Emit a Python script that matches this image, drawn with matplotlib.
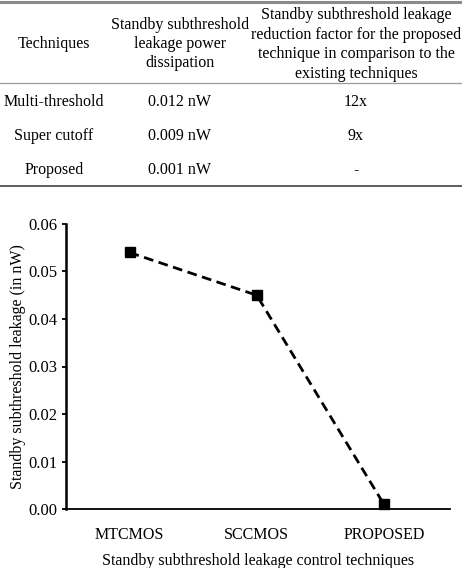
import matplotlib.pyplot as plt
from matplotlib.lines import Line2D

plt.rcParams['font.family'] = ['Liberation Serif', 'DejaVu Serif']
plt.rcParams['font.size'] = 11.5

# table data
col_headers = ['Techniques',
               'Standby subthreshold\nleakage power\ndissipation',
               'Standby subthreshold leakage\nreduction factor for the proposed\ntechnique in comparison to the\nexisting techniques']
row_names = ['Multi-threshold', 'Super cutoff', 'Proposed']
row_power = ['0.012 nW', '0.009 nW', '0.001 nW']
row_factor = ['12x', '9x', '-']

# chart data
techniques = ['MTCMOS', 'SCCMOS', 'PROPOSED']
leakage = [0.054, 0.045, 0.001]

W, H = 462, 568
fig = plt.figure(figsize=(W / 100, H / 100), dpi=100)

def fy(py):
    return 1 - py / H

# table rules
fig.add_artist(Line2D([0, 1], [fy(1.5), fy(1.5)], color='#8a8a8a', lw=2.2))
fig.add_artist(Line2D([0, 1], [fy(83), fy(83)], color='#9a9a9a', lw=0.9))
fig.add_artist(Line2D([0, 1], [fy(186), fy(186)], color='#333333', lw=1.1))

col_x = [54 / W, 180 / W, 356 / W]
fig.text(col_x[0], fy(44), col_headers[0], ha='center', va='center', linespacing=1.28)
fig.text(col_x[1], fy(44), col_headers[1], ha='center', va='center', linespacing=1.28)
fig.text(col_x[2], fy(44.5), col_headers[2], ha='center', va='center', linespacing=1.28)

row_y = [102, 136, 170]
for i in range(len(row_names)):
    fig.text(col_x[0], fy(row_y[i]), row_names[i], ha='center', va='center')
    fig.text(col_x[1], fy(row_y[i]), row_power[i], ha='center', va='center')
    fig.text(col_x[2], fy(row_y[i]), row_factor[i], ha='center', va='center')

# chart
ax = fig.add_axes([66 / W, 1 - 509 / H, (450 - 66) / W, (509 - 224) / H])
x = list(range(len(techniques)))
ax.plot(x, leakage, ls='--', dashes=(3.5, 2), c='black', lw=2, marker='s', ms=6.5, clip_on=False)
ax.set_xlim(-0.5, 2.52)
ax.set_ylim(0, 0.06)
ax.set_yticks([0, 0.01, 0.02, 0.03, 0.04, 0.05, 0.06])
ax.set_yticklabels(['%.2f' % v for v in ax.get_yticks()], fontsize=12)
ax.set_xticks(x)
ax.set_xticklabels(techniques)
ax.spines['top'].set_visible(False)
ax.spines['right'].set_visible(False)
ax.spines['left'].set_linewidth(1.8)
ax.spines['bottom'].set_linewidth(1.3)
ax.tick_params(axis='y', length=3, width=1.3, pad=3)
ax.tick_params(axis='x', length=0, pad=13)
ax.set_ylabel('Standby subthreshold leakage (in nW)', labelpad=2)
ax.set_xlabel('Standby subthreshold leakage control techniques', labelpad=7)

plt.savefig('out.png', dpi=100)
